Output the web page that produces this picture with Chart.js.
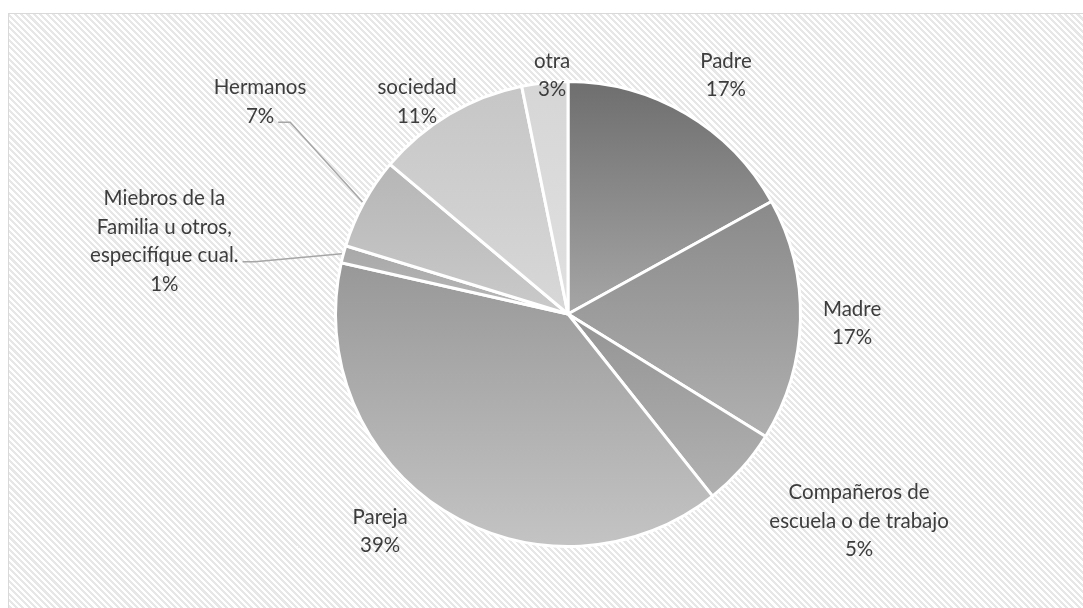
<!DOCTYPE html>
<html>
<head>
<meta charset="utf-8">
<script src="https://cdn.jsdelivr.net/npm/chart.js@4"></script>
<style>
html, body { margin: 0; padding: 0; background: #fff; }
#wrap {
  position: absolute; left: 8px; top: 13px; width: 1090px; height: 610px;
  border: 1px solid #d9d9d9;
  background: repeating-linear-gradient(45deg, #ffffff 0px, #ffffff 2.3px, #e7e7e7 2.3px, #e7e7e7 4.5px);
}
#c { position: absolute; left: 0; top: 0; }
</style>
</head>
<body>
<div id="wrap"></div>
<canvas id="c" width="1083" height="608"></canvas>
<script>
// data
var labels = ['Padre', 'Madre', 'Compañeros de escuela o de trabajo', 'Pareja',
  'Miebros de la Familia u otros, especifíque cual.', 'Hermanos', 'sociedad', 'otra'];
var values = [17.0, 16.9, 5.5, 39.3, 1.2, 6.4, 10.7, 3.2];
var pctText = ['17%', '17%', '5%', '39%', '1%', '7%', '11%', '3%'];
// how the labels are broken into lines
var labelLines = [
  ['Padre'], ['Madre'], ['Compañeros de', 'escuela o de trabajo'], ['Pareja'],
  ['Miebros de la', 'Familia u otros,', 'especifíque cual.'], ['Hermanos'], ['sociedad'], ['otra']
];

// gradient top/bottom per slice
var topCols = ['#6e6e6e', '#8a8a8a', '#949494', '#989898', '#a8a8a8', '#b6b6b6', '#c6c6c6', '#d6d6d6'];
var botCols = ['#a6a6a6', '#b0b0b0', '#b2b2b2', '#c4c4c4', '#b8b8b8', '#cacaca', '#d8d8d8', '#e0e0e0'];

// label block centre, offset from pie centre in radius units; leader line attach (line index) or -1
var labelPos = [
  [0.675, -1.02, -1], [1.214, 0.04, -1], [1.244, 0.885, -1], [-0.803, 0.93, -1],
  [-1.725, -0.31, 2], [-1.316, -0.906, 1], [-0.645, -0.906, -1], [-0.068, -1.02, -1]
];

var FONT = '20.5px Lato';
var LINE_H = 28.5;

function sliceGeom(chart, i) {
  var a = chart.chartArea;
  var cx = (a.left + a.right) / 2, cy = (a.top + a.bottom) / 2;
  var r = Math.min(a.right - a.left, a.bottom - a.top) / 2;
  var total = values.reduce(function (s, v) { return s + v; }, 0);
  var before = 0;
  for (var k = 0; k < i; k++) before += values[k];
  var s = before / total * Math.PI * 2;
  var e = (before + values[i]) / total * Math.PI * 2;
  return { cx: cx, cy: cy, r: r, s: s, e: e };
}

function sliceFill(ctx) {
  var chart = ctx.chart;
  var i = ctx.dataIndex;
  if (!chart.chartArea || i === undefined) return topCols[i || 0];
  var g = sliceGeom(chart, i);
  // y range of slice (angles measured clockwise from top)
  var ys = [g.cy, g.cy - g.r * Math.cos(g.s), g.cy - g.r * Math.cos(g.e)];
  if (g.s <= 0 && g.e >= 0) ys.push(g.cy - g.r);
  if (g.s <= Math.PI && g.e >= Math.PI) ys.push(g.cy + g.r);
  var y0 = Math.min.apply(null, ys), y1 = Math.max.apply(null, ys);
  var grad = chart.ctx.createLinearGradient(0, y0, 0, y1 + 1);
  grad.addColorStop(0, topCols[i]);
  grad.addColorStop(1, botCols[i]);
  return grad;
}

var labelPlugin = {
  id: 'outLabels',
  afterDatasetsDraw: function (chart) {
    var c = chart.ctx;
    c.save();
    c.font = FONT;
    c.fillStyle = '#3d3d3d';
    c.textAlign = 'center';
    c.textBaseline = 'middle';
    for (var i = 0; i < values.length; i++) {
      var g = sliceGeom(chart, i);
      var lines = labelLines[i].concat([pctText[i]]);
      var bx = g.cx + labelPos[i][0] * g.r;
      var by = g.cy + labelPos[i][1] * g.r;
      var y0 = by - (lines.length - 1) * LINE_H / 2;
      for (var j = 0; j < lines.length; j++) {
        c.fillText(lines[j], bx, y0 + j * LINE_H);
      }
      if (labelPos[i][2] >= 0) {
        var li = labelPos[i][2];
        var w = c.measureText(lines[li]).width;
        var sx = bx + w / 2 + 4, sy = y0 + li * LINE_H + 6;
        var m = (g.s + g.e) / 2;
        var ex = g.cx + g.r * Math.sin(m), ey = g.cy - g.r * Math.cos(m);
        c.strokeStyle = '#a6a6a6';
        c.lineWidth = 1.5;
        c.beginPath();
        c.moveTo(sx, sy);
        c.lineTo(sx + 12, sy);
        c.lineTo(ex, ey);
        c.stroke();
      }
    }
    c.restore();
  }
};

new Chart(document.getElementById('c'), {
  type: 'pie',
  data: {
    labels: labels,
    datasets: [{
      data: values,
      backgroundColor: sliceFill,
      borderColor: '#ffffff',
      borderWidth: 3,
      hoverOffset: 0
    }]
  },
  options: {
    responsive: false,
    animation: false,
    layout: { padding: { top: 80, bottom: 60, left: 53, right: 0 } },
    plugins: {
      legend: { display: false },
      tooltip: { enabled: false }
    }
  },
  plugins: [labelPlugin]
});
</script>
</body>
</html>
